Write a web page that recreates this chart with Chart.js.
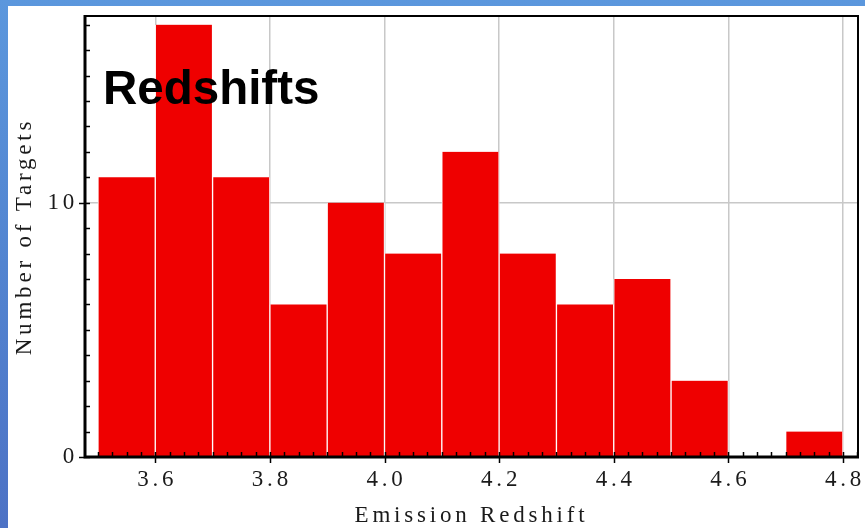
<!DOCTYPE html>
<html lang="en">
<head>
  <meta charset="UTF-8">
  <title>Redshifts</title>
  <script src="https://cdn.jsdelivr.net/npm/chart.js"></script>
  <style>
    body {
      margin: 0;
      width: 865px;
      height: 528px;
      overflow: hidden;
      background: linear-gradient(180deg, #5b97dd 0%, #5284d0 50%, #4d72c5 100%);
    }

    #wrap {
      position: absolute;
      left: 8px;
      top: 6px;
      width: 857px;
      height: 522px;
      background: #fff;
    }
  </style>
</head>
<body>

  <div id="wrap">
    <canvas id="histChart" width="857" height="522"></canvas>
  </div>

  <script>
    // histogram bins (centre of each 0.1 wide bin) and counts
    const BIN_CENTERS = [3.55, 3.65, 3.75, 3.85, 3.95, 4.05, 4.15, 4.25, 4.35, 4.45, 4.55, 4.65, 4.75];
    const COUNTS = [11, 17, 11, 6, 10, 8, 12, 8, 6, 7, 3, 0, 1];

    const X_TICKS = [3.6, 3.8, 4.0, 4.2, 4.4, 4.6, 4.8];
    const Y_TICKS = [0, 10];
    const X_MINOR_STEP = 0.025;
    const Y_MINOR_STEP = 1;

    const SERIF = "'Liberation Serif', 'DejaVu Serif', serif";

    // spaced-out serif text, like the original plot
    const spacingPlugin = {
      id: 'spacing',
      beforeDraw(chart) {
        chart.ctx.letterSpacing = '3.8px';
      }
    };

    // frame, inward minor ticks and the big in-plot label
    const framePlugin = {
      id: 'frame',
      afterDraw(chart) {
        const ctx = chart.ctx;
        const { left, right, top, bottom } = chart.chartArea;
        const xs = chart.scales.x;
        const ys = chart.scales.y;

        ctx.save();
        ctx.strokeStyle = '#000';

        // y ticks
        ctx.lineWidth = 1.5;
        for (let v = 0; v <= ys.max; v += Y_MINOR_STEP) {
          const y = Math.round(ys.getPixelForValue(v)) + 0.5;
          const major = Y_TICKS.includes(v);
          ctx.beginPath();
          ctx.moveTo(major ? left - 6 : left, y);
          ctx.lineTo(left + 5, y);
          ctx.stroke();
        }

        // x ticks
        for (let i = 0; ; i++) {
          const v = +(3.5 + i * X_MINOR_STEP).toFixed(3);
          if (v > xs.max) break;
          const x = Math.round(xs.getPixelForValue(v)) + 0.5;
          const major = X_TICKS.some(t => Math.abs(t - v) < 1e-6);
          ctx.beginPath();
          ctx.moveTo(x, bottom - 5);
          ctx.lineTo(x, major ? bottom + 6 : bottom);
          ctx.stroke();
        }

        // frame
        ctx.lineWidth = 2;
        ctx.beginPath();
        ctx.moveTo(left, top);
        ctx.lineTo(right, top);
        ctx.lineTo(right, bottom);
        ctx.stroke();

        ctx.lineWidth = 3;
        ctx.beginPath();
        ctx.moveTo(left, top - 1);
        ctx.lineTo(left, bottom);
        ctx.lineTo(right + 1, bottom);
        ctx.stroke();

        // label
        ctx.letterSpacing = '0px';
        ctx.fillStyle = '#000';
        ctx.font = "bold 47.5px 'Liberation Sans', Arial, sans-serif";
        ctx.textAlign = 'left';
        ctx.textBaseline = 'alphabetic';
        ctx.fillText('Redshifts', left + 18, top + 88);
        ctx.restore();
      }
    };

    function noPad(s) {
      s.paddingLeft = 0;
      s.paddingRight = 0;
      s.paddingTop = 0;
      s.paddingBottom = 0;
    }

    new Chart(document.getElementById('histChart'), {
      type: 'bar',
      data: {
        datasets: [{
          data: BIN_CENTERS.map((x, i) => ({ x: x, y: COUNTS[i] })),
          backgroundColor: '#ef0000',
          borderColor: '#ffffff',
          borderWidth: { left: 1, right: 1, top: 0, bottom: 0 },
          borderSkipped: false,
          barPercentage: 1,
          categoryPercentage: 1
        }]
      },
      options: {
        responsive: false,
        animation: false,
        devicePixelRatio: 1,
        layout: { padding: { top: 10, right: 7, left: 0, bottom: 0 } },
        plugins: {
          legend: { display: false },
          tooltip: { enabled: false }
        },
        scales: {
          x: {
            type: 'linear',
            offset: false,
            min: 3.4774,
            max: 4.8262,
            afterFit: s => { s.height = 71; noPad(s); },
            afterBuildTicks: s => { s.ticks = X_TICKS.map(v => ({ value: v })); },
            grid: { color: '#c8c8c8', lineWidth: 1.5, drawTicks: false, offset: false },
            border: { display: false },
            ticks: {
              padding: 9,
              labelOffset: 2,
              color: '#1a1a1a',
              font: { family: SERIF, size: 23 },
              callback: v => v.toFixed(1)
            },
            title: {
              display: true,
              text: 'Emission Redshift',
              color: '#1a1a1a',
              font: { family: SERIF, size: 23 },
              padding: { top: 0, bottom: -2 }
            }
          },
          y: {
            min: 0,
            max: 17.34,
            afterFit: s => { s.width = 77; noPad(s); },
            afterBuildTicks: s => { s.ticks = Y_TICKS.map(v => ({ value: v })); },
            grid: {
              color: c => (c.tick && c.tick.value === 10 ? '#c8c8c8' : 'rgba(0,0,0,0)'),
              lineWidth: 1.5,
              drawTicks: false
            },
            border: { display: false },
            ticks: {
              padding: 7,
              color: '#1a1a1a',
              font: { family: SERIF, size: 23 },
              callback: v => String(v)
            },
            title: {
              display: true,
              text: 'Number of Targets',
              color: '#1a1a1a',
              font: { family: SERIF, size: 23 },
              padding: { top: 3, bottom: 0 }
            }
          }
        }
      },
      plugins: [spacingPlugin, framePlugin]
    });
  </script>

</body>
</html>
